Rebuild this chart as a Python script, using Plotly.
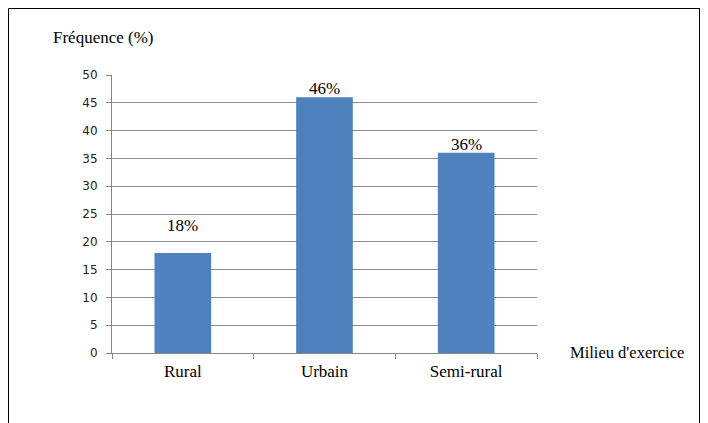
import plotly.graph_objects as go

categories = ["Rural", "Urbain", "Semi-rural"]
values = [18, 46, 36]
value_labels = ["18%", "46%", "36%"]
y_ticks = [0, 5, 10, 15, 20, 25, 30, 35, 40, 45, 50]

# page body has an 8px margin; work in screen coords and subtract it
OFF = 8
W, H = 700, 415
L, R, T, B = 112 - OFF, 171, 75 - OFF, 70
pw, ph = W - L - R, H - T - B

def px(x):
    return (x - OFF - L) / pw

def py(y):
    return (H - B - (y - OFF)) / ph

serif = "Liberation Serif"

fig = go.Figure()
fig.add_trace(go.Bar(x=categories, y=values, marker=dict(color="#4F81BD", line=dict(width=0)),
                     hoverinfo="skip"))

label_shift = [16, -3, -3]
for c, v, t, s in zip(categories, values, value_labels, label_shift):
    fig.add_annotation(x=c, y=v, text=t, showarrow=False, yanchor="bottom", yshift=s,
                       font=dict(family=serif, size=17, color="#000"))

fig.add_annotation(xref="paper", yref="paper", x=px(51), y=py(38), xanchor="left", yanchor="middle",
                   text="Fréquence (%)", showarrow=False, font=dict(family=serif, size=17, color="#000"))
fig.add_annotation(xref="paper", yref="paper", x=px(568), y=py(352), xanchor="left", yanchor="middle",
                   text="Milieu d'exercice", showarrow=False, font=dict(family=serif, size=16.5, color="#000"))

frame = dict(color="#000", width=1)
fig.add_shape(type="line", xref="paper", yref="paper", x0=px(8.5), x1=px(700.5), y0=py(8.5), y1=py(8.5), line=frame)
fig.add_shape(type="line", xref="paper", yref="paper", x0=px(8.5), x1=px(8.5), y0=py(8.5), y1=py(430), line=frame)
fig.add_shape(type="line", xref="paper", yref="paper", x0=px(699.5), x1=px(699.5), y0=py(8.5), y1=py(430), line=frame)

fig.update_layout(
    width=W, height=H,
    margin=dict(l=L, r=R, t=T, b=B),
    paper_bgcolor="white", plot_bgcolor="white",
    showlegend=False, bargap=0.6,
    xaxis=dict(type="category", showline=True, linecolor="#868686", linewidth=1,
               ticks="outside", tickson="boundaries", ticklen=5, tickcolor="#868686",
               showgrid=False, ticklabelstandoff=3,
               tickfont=dict(family=serif, size=17, color="#000")),
    yaxis=dict(range=[0, 50], tickvals=y_ticks, showline=True, linecolor="#868686", linewidth=1,
               ticks="outside", ticklen=5, tickcolor="#868686",
               gridcolor="#8c8c8c", gridwidth=1, zeroline=False,
               ticklabelstandoff=6,
               tickfont=dict(family="DejaVu Sans", size=12, color="#222")),
)

fig.write_html("out.html")
